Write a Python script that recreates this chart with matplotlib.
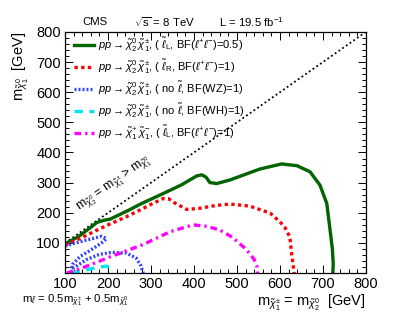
import matplotlib
matplotlib.use('Agg')
from matplotlib import pyplot as plt
from matplotlib.ticker import MultipleLocator

# contour data (x = m_chargino = m_neutralino2, y = m_LSP) [GeV]
green_x = [100, 130, 160, 174, 190, 205, 250, 274, 321, 370, 406, 418, 428, 437, 453, 484,
           553, 604, 640, 670, 693, 709, 716, 722, 724, 723]
green_y = [97, 120, 152, 168, 175, 179, 210, 228, 259, 292, 322, 326, 318, 300, 297, 309,
           345, 362, 356, 336, 292, 231, 150, 80, 30, 0]

red_x = [100, 140, 166, 200, 243, 274, 300, 328, 340, 356, 383, 414, 450, 484, 530, 577,
         600, 612, 623, 627, 633]
red_y = [93, 118, 137, 160, 187, 209, 228, 247, 247, 232, 211, 215, 224, 229, 222, 199,
         170, 150, 120, 66, 0]

blue_x = [100, 130, 160, 185, 196, 190, 166, 135, 118, 114, 125, 150, 180, 210, 243, 265, 276, 282]
blue_y = [90, 102, 113, 122, 115, 105, 82, 55, 30, 14, 22, 45, 62, 69, 66, 50, 25, 0]

cyan_x = [115, 130, 154, 177, 195, 203, 206]
cyan_y = [0, 5, 12, 19, 23, 18, 0]

magenta_x = [104, 130, 160, 205, 243, 282, 344, 398, 430, 460, 490, 522, 540, 546, 548]
magenta_y = [0, 12, 28, 54, 74, 95, 137, 160, 155, 143, 118, 78, 45, 25, 0]

diag_x = [100, 800]
diag_y = [100, 800]

x_ticks = [100, 200, 300, 400, 500, 600, 700, 800]
y_ticks = [100, 200, 300, 400, 500, 600, 700, 800]

labels = [
    r'$pp \rightarrow \tilde{\chi}^{0}_{2}\,\tilde{\chi}^{\pm}_{1}$, ( $\tilde{\ell}_{\mathrm{L}}$, BF($\ell^{+}\ell^{-}$)=0.5)',
    r'$pp \rightarrow \tilde{\chi}^{0}_{2}\,\tilde{\chi}^{\pm}_{1}$, ( $\tilde{\ell}_{\mathrm{R}}$, BF($\ell^{+}\ell^{-}$)=1)',
    r'$pp \rightarrow \tilde{\chi}^{0}_{2}\,\tilde{\chi}^{\pm}_{1}$, ( no $\tilde{\ell}$, BF(WZ)=1)',
    r'$pp \rightarrow \tilde{\chi}^{0}_{2}\,\tilde{\chi}^{\pm}_{1}$, ( no $\tilde{\ell}$, BF(WH)=1)',
    r'$pp \rightarrow \tilde{\chi}^{+}_{1}\,\tilde{\chi}^{-}_{1}$, ( $\tilde{\ell}_{\mathrm{L}}$, BF($\ell^{+}\ell^{-}$)=1)',
]

plt.rcParams['font.family'] = ['Liberation Sans', 'DejaVu Sans']
plt.rcParams['mathtext.fontset'] = 'custom'
plt.rcParams['mathtext.rm'] = 'Liberation Sans'
plt.rcParams['mathtext.it'] = 'Liberation Sans:italic'
plt.rcParams['mathtext.bf'] = 'Liberation Sans:bold'

fig = plt.figure(figsize=(4.07, 3.19), dpi=100)
ax = fig.add_axes([0.160, 0.144, 0.739, 0.756])

ax.plot(diag_x, diag_y, color='black', lw=1.3, ls=(0, (1, 1.5)))
ax.plot(green_x, green_y, color='#006400', lw=2.4, ls='-', label=labels[0])
ax.plot(red_x, red_y, color='#ff0000', lw=2.4, ls=(0, (1, 1)), label=labels[1])
ax.plot(blue_x, blue_y, color='#3344ff', lw=2.4, ls=(0, (0.6, 0.6)), label=labels[2])
ax.plot(cyan_x, cyan_y, color='#00e5ee', lw=2.4, ls=(0, (2.5, 2)), label=labels[3])
ax.plot(magenta_x, magenta_y, color='#ff00ff', lw=2.4, ls=(0, (2, 1.2, 0.7, 1.2)), label=labels[4])

ax.set_xlim(100, 800)
ax.set_ylim(0, 800)
ax.set_xticks(x_ticks)
ax.set_yticks(y_ticks)
ax.xaxis.set_minor_locator(MultipleLocator(20))
ax.yaxis.set_minor_locator(MultipleLocator(20))
ax.tick_params(which='both', direction='in', top=True, right=True, width=0.7, labelsize=10.5)
ax.tick_params(which='major', length=5.5, pad=3)
ax.tick_params(which='minor', length=2.8)
for s in ax.spines.values():
    s.set_linewidth(0.9)

ax.set_xlabel(r'$\mathrm{m}_{\tilde{\chi}^{\pm}_{1}}$ = $\mathrm{m}_{\tilde{\chi}^{0}_{2}}$  [GeV]',
              fontsize=10.5, loc='right', labelpad=1)
ax.set_ylabel(r'$\mathrm{m}_{\tilde{\chi}^{0}_{1}}$  [GeV]', fontsize=10.5, loc='top', labelpad=4)

ax.legend(loc='upper left', bbox_to_anchor=(0.03, 0.985), frameon=False, fontsize=8,
          handlelength=1.8, handletextpad=0.35, labelspacing=0.35, borderaxespad=0, borderpad=0)

# header
fig.text(0.233, 0.932, 'CMS', fontsize=8.2, ha='center', va='center')
fig.text(0.405, 0.932, r'$\sqrt{\mathrm{s}}$ = 8 TeV', fontsize=8.2, ha='center', va='center')
fig.text(0.617, 0.932, r'L = 19.5 fb$^{\mathrm{-1}}$', fontsize=8.2, ha='center', va='center')

# diagonal label
ax.text(215, 296,
        r'$\mathrm{m}_{\tilde{\chi}^{0}_{2}}$ = $\mathrm{m}_{\tilde{\chi}^{\pm}_{1}}$ > $\mathrm{m}_{\tilde{\chi}^{0}_{1}}$',
        fontsize=9, rotation=45, rotation_mode='anchor', transform_rotates_text=True,
        ha='center', va='center')

fig.text(0.055, 0.058,
         r'$\mathrm{m}_{\tilde{\ell}}$ = 0.5$\mathrm{m}_{\tilde{\chi}^{\pm}_{1}}$ + 0.5$\mathrm{m}_{\tilde{\chi}^{0}_{1}}$',
         fontsize=8.2, ha='left', va='center')

fig.savefig('out.png', dpi=100)
